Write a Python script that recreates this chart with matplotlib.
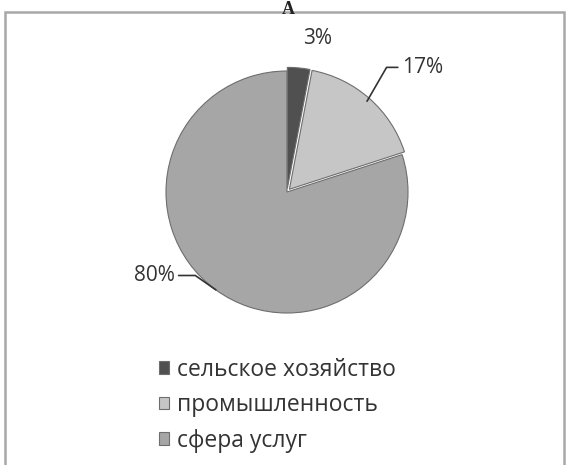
import numpy as np
import matplotlib
matplotlib.use("Agg")
import matplotlib.pyplot as plt
from matplotlib.patches import Rectangle

plt.rcParams["font.family"] = ["Open Sans", "DejaVu Sans"]

labels = ["сельское хозяйство", "промышленность", "сфера услуг"]
shares = [3, 17, 80]
colors = ["#505050", "#c6c6c6", "#a6a6a6"]

W, H = 566, 465
fig = plt.figure(figsize=(W / 100, H / 100), dpi=100)
fig.patch.set_facecolor("white")

# frame around the chart (bottom edge is cut off in the scan)
fig.patches.append(Rectangle((5 / W, -0.05), 559 / W, 1.05 - 12 / H,
                             transform=fig.transFigure, fill=False,
                             edgecolor="#a8a8a8", linewidth=1.8))

# title letter at the very top
fig.text(288 / W, 1 - 14 / H, "А", ha="center", va="baseline",
         fontsize=13, fontweight="bold", family="Liberation Serif",
         color="#222222")

cx, cy, r = 287, 192, 121
ax = fig.add_axes([(cx - r) / W, (H - cy - r) / H, 2 * r / W, 2 * r / H])
wedges, _ = ax.pie(shares, colors=colors, startangle=90, counterclock=False,
                   explode=[0.03, 0.03, 0],
                   wedgeprops=dict(edgecolor="#6e6e6e", linewidth=0.8))
ax.set_xlim(-1.0, 1.0)
ax.set_ylim(-1.0, 1.0)
ax.set_aspect("equal")
ax.axis("off")

# percentage labels: (x, y) in pie radii, and leader line bend angle
label_pos = [(0.25, 1.27), (0.95, 1.03), (-0.93, -0.69)]
bends = [None, 60, -35]
for w, pct, (tx, ty), bend in zip(wedges, shares, label_pos, bends):
    ang = np.deg2rad((w.theta1 + w.theta2) / 2)
    ex, ey = np.cos(ang), np.sin(ang)
    if bend is None:
        ax.text(tx, ty, f"{pct}%", ha="center", va="center",
                fontsize=15, color="#333333")
        continue
    ax.annotate(f"{pct}%", xy=(ex, ey), xytext=(tx, ty),
                ha="left" if tx > 0 else "right", va="center",
                fontsize=15, color="#333333",
                arrowprops=dict(arrowstyle="-", color="#333333", lw=1.2,
                                shrinkA=1, shrinkB=0,
                                connectionstyle=f"angle,angleA=0,angleB={bend},rad=0"))

fig.legend(wedges, labels, loc="upper left",
           bbox_to_anchor=(138 / W, 1 - 337 / H), frameon=False,
           fontsize=16.5, handlelength=0.45, handleheight=0.45,
           handletextpad=0.35, labelspacing=0.5, labelcolor="#333333")

fig.savefig("out.png", dpi=100)
